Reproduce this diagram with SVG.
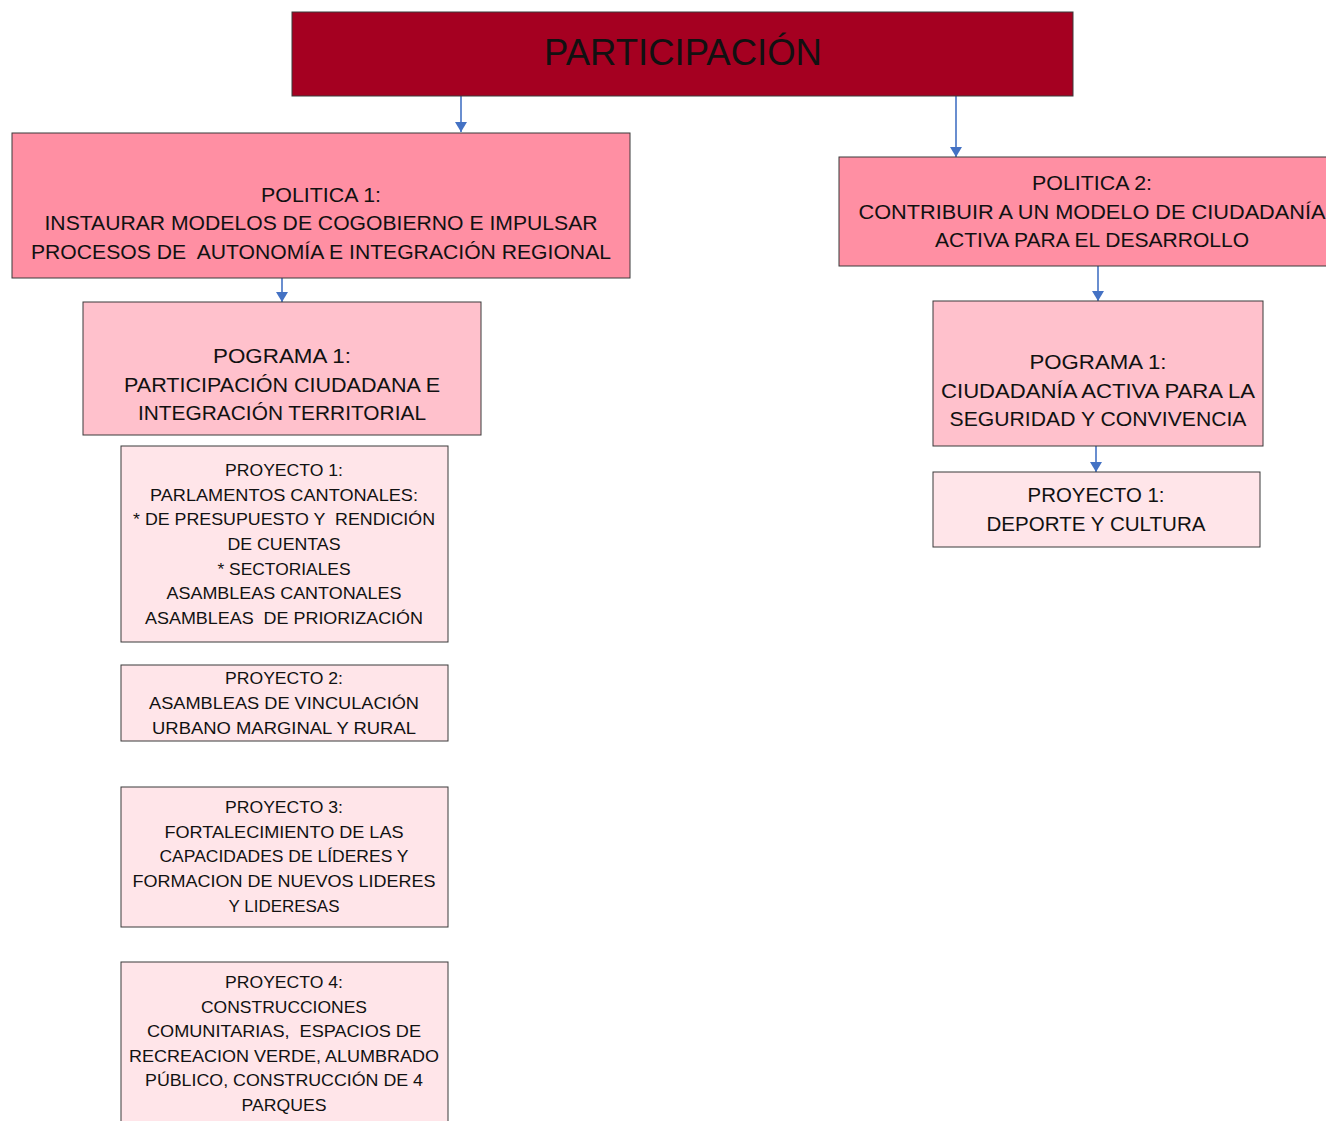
<svg xmlns="http://www.w3.org/2000/svg" width="1326" height="1121" viewBox="0 0 1326 1121" xml:space="preserve">
<defs>
<style>
.box{stroke:#3a3a3a;stroke-width:1}
.top{fill:#A50021}
.pol{fill:#FF8FA3}
.prg{fill:#FFC1CC}
.prj{fill:#FFE5E9}
text{font-family:"Liberation Sans",Arial,sans-serif;fill:#111;text-anchor:middle;white-space:pre}
.t36{font-size:36px}
.t20{font-size:20px}
.t17{font-size:16.5px}
.conn{stroke:#4472C4;stroke-width:1.6;fill:none}
</style>
<marker id="ah" viewBox="0 0 10 12" refX="10" refY="6" markerWidth="12" markerHeight="12" markerUnits="userSpaceOnUse" orient="auto"><path d="M0,0 L10,6 L0,12 z" fill="#4472C4"/></marker>
</defs>
<rect width="1326" height="1121" fill="#fff"/>
<g id="connectors">
<line class="conn" x1="461" y1="96" x2="461" y2="132" marker-end="url(#ah)"/>
<line class="conn" x1="956" y1="96" x2="956" y2="157" marker-end="url(#ah)"/>
<line class="conn" x1="282" y1="278" x2="282" y2="302" marker-end="url(#ah)"/>
<line class="conn" x1="1098" y1="266" x2="1098" y2="301" marker-end="url(#ah)"/>
<line class="conn" x1="1096" y1="446" x2="1096" y2="472" marker-end="url(#ah)"/>
</g>
<g id="participacion"><rect class="box top" x="292" y="12" width="781" height="84"/><text class="t36" x="683" y="65" textLength="278" lengthAdjust="spacingAndGlyphs">PARTICIPACIÓN</text></g>
<g id="politica1"><rect class="box pol" x="12" y="133" width="618" height="145"/><text class="t20" x="321" y="202" textLength="120" lengthAdjust="spacingAndGlyphs">POLITICA 1:</text><text class="t20" x="321" y="230" textLength="553" lengthAdjust="spacingAndGlyphs">INSTAURAR MODELOS DE COGOBIERNO E IMPULSAR</text><text class="t20" x="321" y="259" textLength="580" lengthAdjust="spacingAndGlyphs">PROCESOS DE  AUTONOMÍA E INTEGRACIÓN REGIONAL</text></g>
<g id="politica2"><rect class="box pol" x="839" y="157" width="492" height="109"/><text class="t20" x="1092" y="190" textLength="120" lengthAdjust="spacingAndGlyphs">POLITICA 2:</text><text class="t20" x="1092" y="219" textLength="467" lengthAdjust="spacingAndGlyphs">CONTRIBUIR A UN MODELO DE CIUDADANÍA</text><text class="t20" x="1092" y="247" textLength="314" lengthAdjust="spacingAndGlyphs">ACTIVA PARA EL DESARROLLO</text></g>
<g id="programa1-left"><rect class="box prg" x="83" y="302" width="398" height="133"/><text class="t20" x="282" y="363" textLength="138" lengthAdjust="spacingAndGlyphs">POGRAMA 1:</text><text class="t20" x="282" y="392" textLength="316" lengthAdjust="spacingAndGlyphs">PARTICIPACIÓN CIUDADANA E</text><text class="t20" x="282" y="420" textLength="288" lengthAdjust="spacingAndGlyphs">INTEGRACIÓN TERRITORIAL</text></g>
<g id="programa1-right"><rect class="box prg" x="933" y="301" width="330" height="145"/><text class="t20" x="1098" y="369" textLength="137" lengthAdjust="spacingAndGlyphs">POGRAMA 1:</text><text class="t20" x="1098" y="398" textLength="314" lengthAdjust="spacingAndGlyphs">CIUDADANÍA ACTIVA PARA LA</text><text class="t20" x="1098" y="426" textLength="297" lengthAdjust="spacingAndGlyphs">SEGURIDAD Y CONVIVENCIA</text></g>
<g id="proyecto1-right"><rect class="box prj" x="933" y="472" width="327" height="75"/><text class="t20" x="1096" y="502" textLength="137" lengthAdjust="spacingAndGlyphs">PROYECTO 1:</text><text class="t20" x="1096" y="531" textLength="219" lengthAdjust="spacingAndGlyphs">DEPORTE Y CULTURA</text></g>
<g id="proyecto1-left"><rect class="box prj" x="121" y="446" width="327" height="196"/><text class="t17" x="284" y="476" textLength="118" lengthAdjust="spacingAndGlyphs">PROYECTO 1:</text><text class="t17" x="284" y="501" textLength="268" lengthAdjust="spacingAndGlyphs">PARLAMENTOS CANTONALES:</text><text class="t17" x="284" y="525" textLength="302" lengthAdjust="spacingAndGlyphs">* DE PRESUPUESTO Y  RENDICIÓN</text><text class="t17" x="284" y="550" textLength="113" lengthAdjust="spacingAndGlyphs">DE CUENTAS</text><text class="t17" x="284" y="575" textLength="133" lengthAdjust="spacingAndGlyphs">* SECTORIALES</text><text class="t17" x="284" y="599" textLength="235" lengthAdjust="spacingAndGlyphs">ASAMBLEAS CANTONALES</text><text class="t17" x="284" y="624" textLength="278" lengthAdjust="spacingAndGlyphs">ASAMBLEAS  DE PRIORIZACIÓN</text></g>
<g id="proyecto2-left"><rect class="box prj" x="121" y="665" width="327" height="76"/><text class="t17" x="284" y="684" textLength="118" lengthAdjust="spacingAndGlyphs">PROYECTO 2:</text><text class="t17" x="284" y="709" textLength="270" lengthAdjust="spacingAndGlyphs">ASAMBLEAS DE VINCULACIÓN</text><text class="t17" x="284" y="734" textLength="264" lengthAdjust="spacingAndGlyphs">URBANO MARGINAL Y RURAL</text></g>
<g id="proyecto3-left"><rect class="box prj" x="121" y="787" width="327" height="140"/><text class="t17" x="284" y="813" textLength="118" lengthAdjust="spacingAndGlyphs">PROYECTO 3:</text><text class="t17" x="284" y="838" textLength="239" lengthAdjust="spacingAndGlyphs">FORTALECIMIENTO DE LAS</text><text class="t17" x="284" y="862" textLength="249" lengthAdjust="spacingAndGlyphs">CAPACIDADES DE LÍDERES Y</text><text class="t17" x="284" y="887" textLength="303" lengthAdjust="spacingAndGlyphs">FORMACION DE NUEVOS LIDERES</text><text class="t17" x="284" y="912" textLength="111" lengthAdjust="spacingAndGlyphs">Y LIDERESAS</text></g>
<g id="proyecto4-left"><rect class="box prj" x="121" y="962" width="327" height="170"/><text class="t17" x="284" y="988" textLength="118" lengthAdjust="spacingAndGlyphs">PROYECTO 4:</text><text class="t17" x="284" y="1013" textLength="166" lengthAdjust="spacingAndGlyphs">CONSTRUCCIONES</text><text class="t17" x="284" y="1037" textLength="274" lengthAdjust="spacingAndGlyphs">COMUNITARIAS,  ESPACIOS DE</text><text class="t17" x="284" y="1062" textLength="310" lengthAdjust="spacingAndGlyphs">RECREACION VERDE, ALUMBRADO</text><text class="t17" x="284" y="1086" textLength="278" lengthAdjust="spacingAndGlyphs">PÚBLICO, CONSTRUCCIÓN DE 4</text><text class="t17" x="284" y="1111" textLength="85" lengthAdjust="spacingAndGlyphs">PARQUES</text></g>
</svg>
